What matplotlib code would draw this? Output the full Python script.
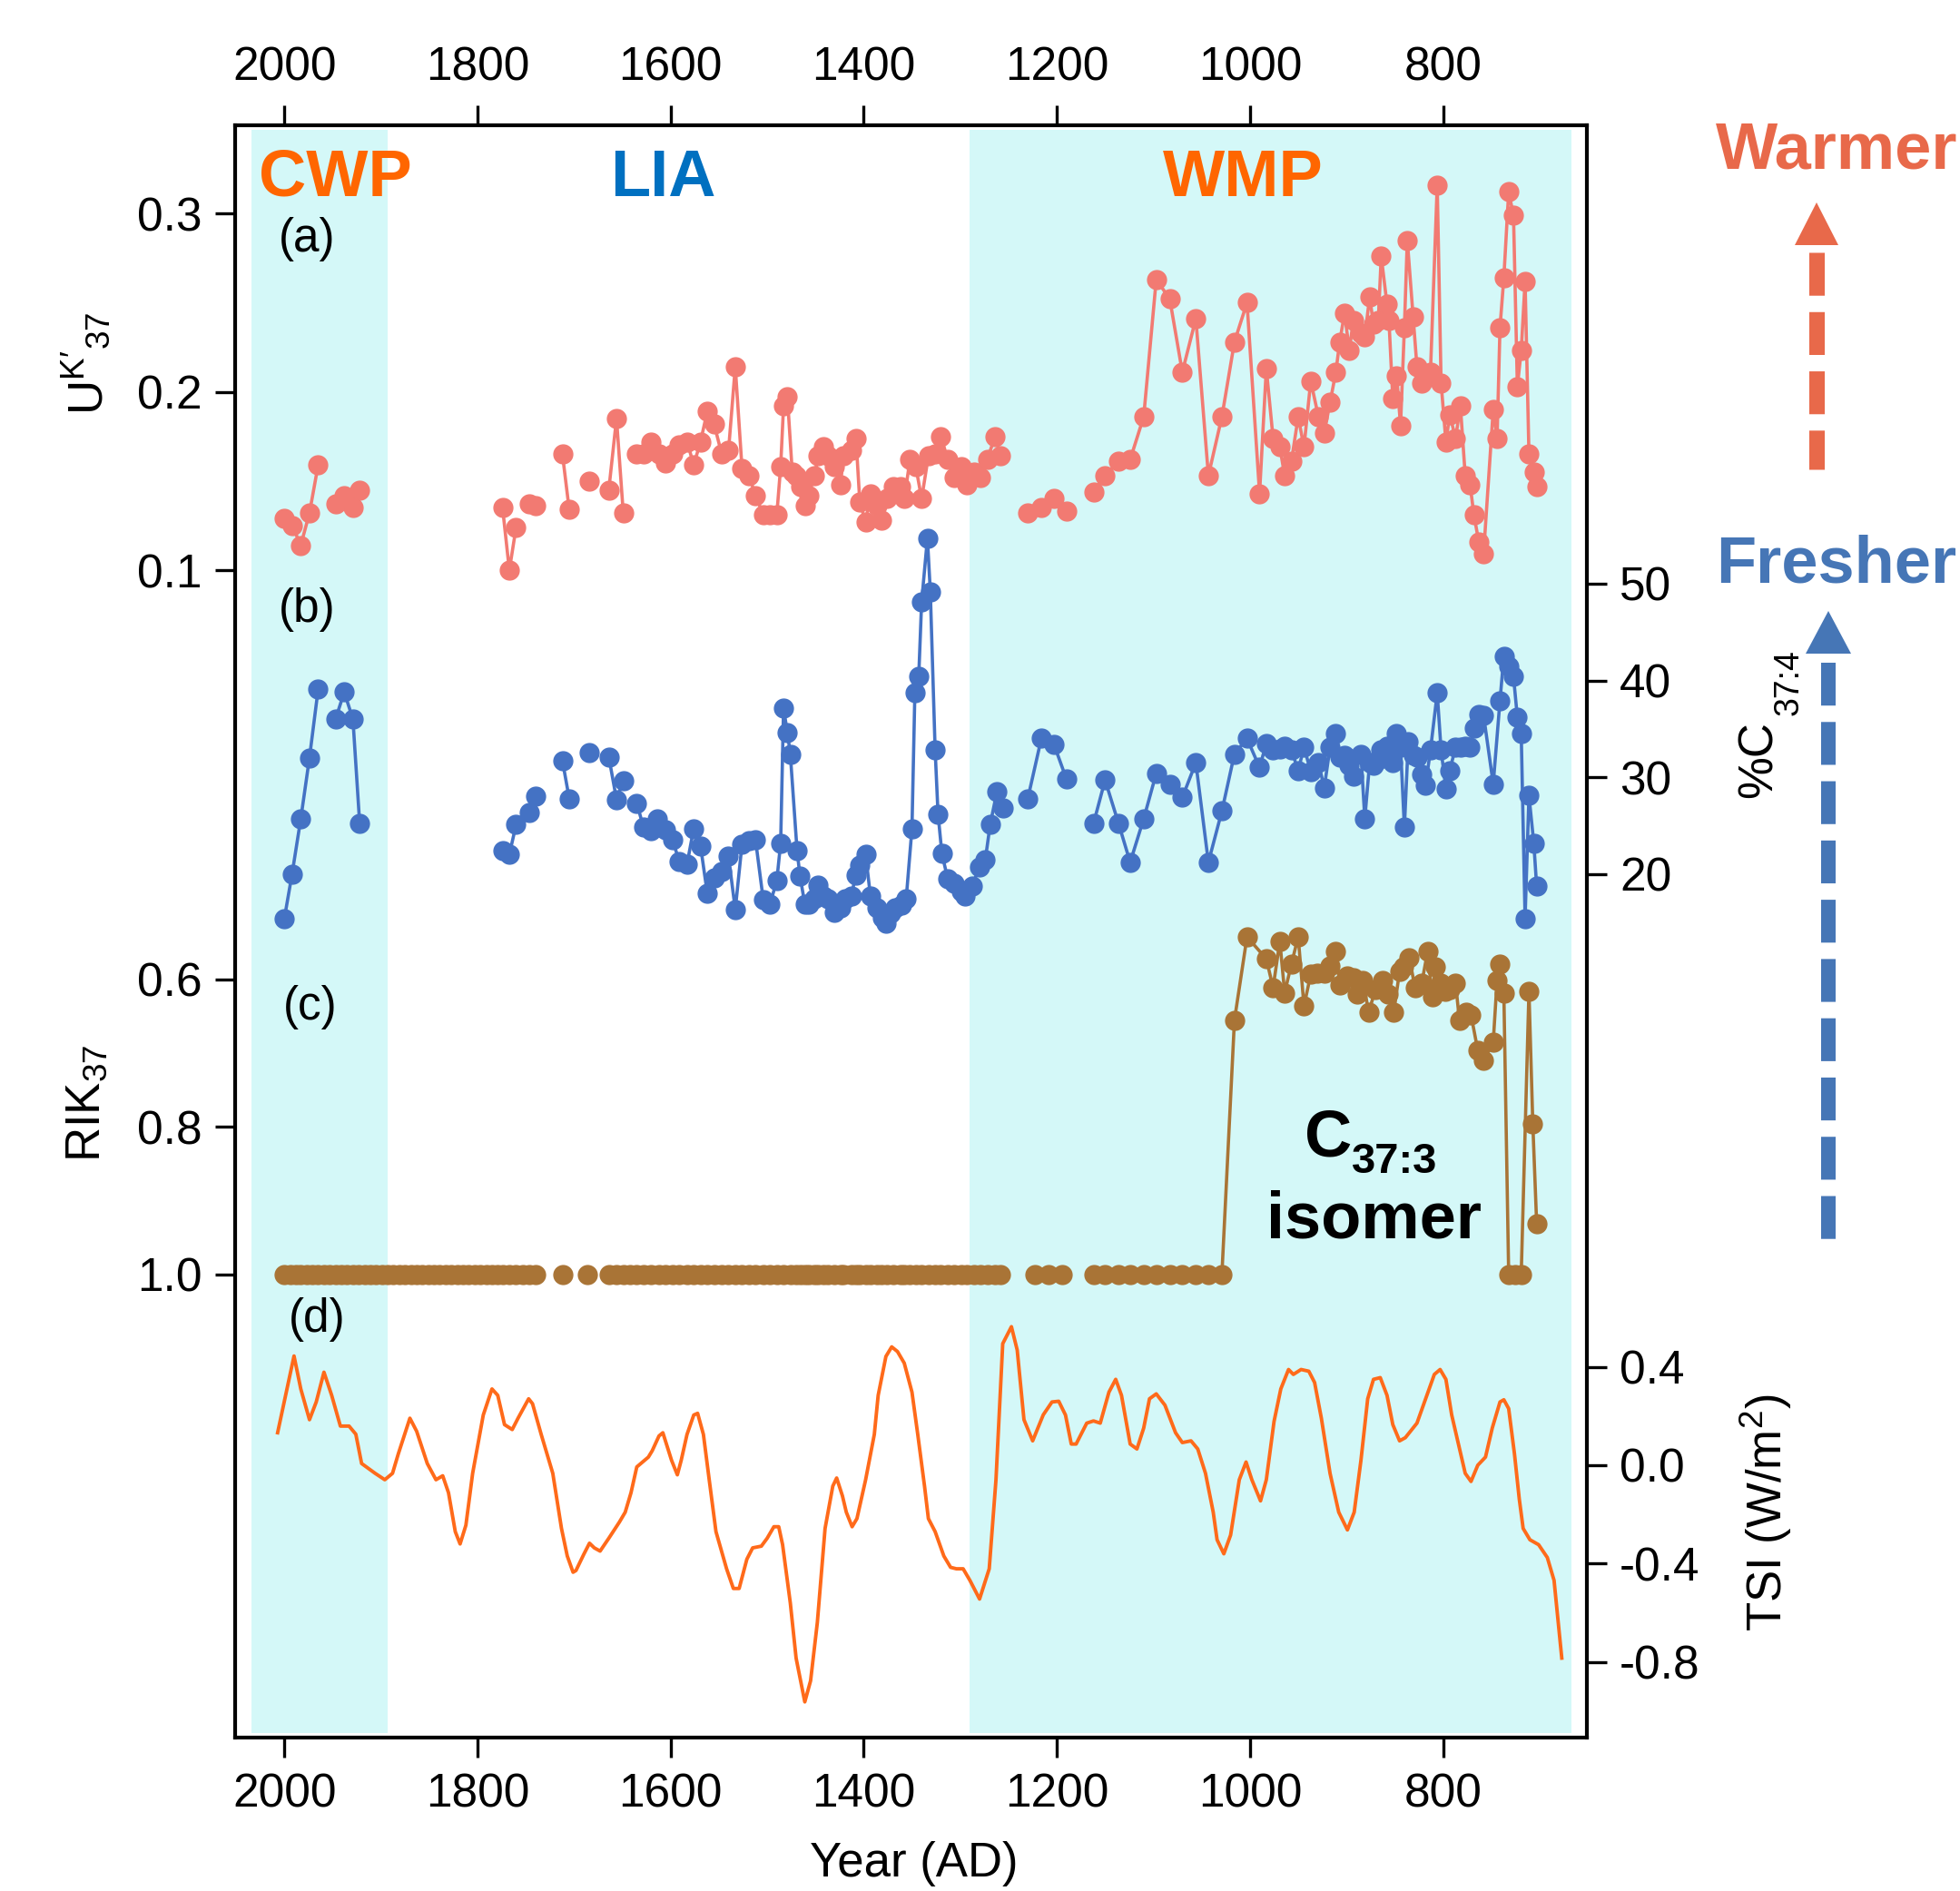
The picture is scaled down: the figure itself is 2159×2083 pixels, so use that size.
import numpy as np
import matplotlib
matplotlib.use("Agg")
import matplotlib.pyplot as plt
from matplotlib.lines import Line2D
from matplotlib.patches import Polygon

plt.rcParams['font.family'] = ['Liberation Sans', 'DejaVu Sans']
plt.rcParams['mathtext.fontset'] = 'custom'
plt.rcParams['mathtext.rm'] = 'Liberation Sans'
plt.rcParams['mathtext.it'] = 'Liberation Sans:italic'
plt.rcParams['mathtext.bf'] = 'Liberation Sans:bold'
plt.rcParams['lines.scale_dashes'] = False

nan = np.nan

# (a) UK'37  (nan = break in the line)
uk_year = [2000, 1992, 1983, 1974, 1965, nan, 1947, 1938, 1929, 1922, nan,
           1774, 1767, 1760, nan, 1746, 1740, nan, 1712, 1705, nan, 1684, nan, 1664, 1656, 1649, nan,
           1635, 1628, 1620, 1612, 1605, 1598, 1591, 1583, 1576, 1569, 1562, 1555,
           1547, 1540, 1533, 1526, 1519, 1512, 1504, 1497, 1490, 1486, 1483, 1479,
           1474, 1470, 1465, 1461, 1457, 1451, 1447, 1442, 1437, 1430, 1424, 1421,
           1413, 1408, 1404, 1398, 1393, 1386, 1382, 1376, 1369, 1362, 1358, 1352,
           1346, 1340, 1333, 1326, 1320, 1313, 1306, 1299, 1293, 1286, 1279, 1272,
           1264, 1258, nan,
           1230, 1216, 1203, 1190, nan, 1162, 1150, 1136, 1124, 1110, 1097, 1083, 1070,
           1056, 1043, 1029, 1016, 1003, 990, 983, 976, 969, 964, 957, 950, 944,
           937, 929, 923, 917, 911, 907, 902, 897, 893, 885, 881, 876, 872, 867,
           864, 858, 856, 852, 848, 844, 840, 837, 831, 827, 822, 813, 806, 802,
           797, 793, 787, 782, 777, 772, 768, 763, 758, 748, 744, 741, 737, 732,
           727, 723, 719, 715, 711, 706, 703]
uk_val = [0.129, 0.125, 0.114, 0.132, 0.159, nan, 0.137, 0.142, 0.135, 0.145, nan,
          0.135, 0.100, 0.124, nan, 0.137, 0.136, nan, 0.165, 0.134, nan, 0.150, nan, 0.145, 0.185, 0.132, nan,
          0.165, 0.165, 0.172, 0.165, 0.160, 0.165, 0.170, 0.172, 0.159, 0.172, 0.189, 0.182,
          0.165, 0.167, 0.214, 0.157, 0.153, 0.142, 0.131, 0.131, 0.131, 0.158, 0.192, 0.197,
          0.155, 0.153, 0.147, 0.136, 0.142, 0.153, 0.164, 0.169, 0.164, 0.158, 0.148, 0.164,
          0.167, 0.174, 0.138, 0.127, 0.143, 0.136, 0.128, 0.140, 0.147, 0.147, 0.140, 0.162,
          0.158, 0.140, 0.164, 0.165, 0.175, 0.162, 0.152, 0.158, 0.148, 0.155, 0.152, 0.162,
          0.175, 0.164, nan,
          0.132, 0.135, 0.140, 0.133, nan, 0.144, 0.153, 0.161, 0.162, 0.186, 0.263, 0.252, 0.211,
          0.241, 0.153, 0.186, 0.228, 0.250, 0.143, 0.213, 0.174, 0.169, 0.153, 0.161, 0.186, 0.169,
          0.206, 0.186, 0.177, 0.194, 0.211, 0.228, 0.244, 0.223, 0.240, 0.233, 0.231, 0.253, 0.238, 0.240,
          0.276, 0.249, 0.240, 0.196, 0.209, 0.181, 0.236, 0.285, 0.242, 0.214, 0.205, 0.211, 0.316, 0.205,
          0.172, 0.187, 0.174, 0.192, 0.153, 0.148, 0.131, 0.116, 0.109, 0.190, 0.174, 0.236, 0.264, 0.312,
          0.299, 0.203, 0.223, 0.262, 0.165, 0.155, 0.147]

# (b) %C37:4
c374_year = [2000, 1992, 1983, 1974, 1965, nan, 1947, 1938, 1929, 1922, nan,
             1774, 1767, 1760, nan, 1746, 1740, nan, 1712, 1705, nan, 1684, nan,
             1664, 1656, 1649, nan, 1635, 1628, 1620, 1614, 1605, 1598,
             1591, 1583, 1576, 1569, 1562, 1555, 1547, 1540, 1533, 1526,
             1519, 1512, 1504, 1497, 1490, 1486, 1483, 1479, 1476, 1469,
             1466, 1461, 1457, 1451, 1447, 1442, 1437, 1430, 1424, 1419,
             1413, 1408, 1404, 1398, 1393, 1386, 1381, 1377, 1372, 1367,
             1361, 1356, 1350, 1347, 1343, 1340, 1334, 1331, 1326, 1323,
             1319, 1313, 1306, 1299, 1295, 1288, 1280, 1274, 1269, 1262, 1256, nan,
             1230, 1216, 1203, 1190, nan, 1162, 1150, 1136, 1124, 1110, 1097,
             1083, 1070, 1056, 1043, 1029, 1016, 1003, 990, 983, 976,
             969, 964, 957, 950, 944, 937, 929, 923, 917, 911,
             907, 902, 897, 893, 885, 881, 876, 872, 867, 864,
             858, 856, 852, 848, 844, 840, 836, 831, 827, 822,
             818, 813, 806, 802, 797, 793, 787, 782, 777, 772,
             768, 763, 758, 748, 741, 737, 732, 727, 723, 719,
             715, 711, 706, 703]
c374_val = [15.4, 20.0, 25.7, 32.0, 39.1, nan, 36.0, 38.8, 36.0, 25.2, nan,
            22.4, 22.0, 25.1, nan, 26.3, 28.0, nan, 31.7, 27.8, nan, 32.5, nan,
            32.1, 27.7, 29.6, nan, 27.3, 24.8, 24.5, 25.7, 24.6, 23.5,
            21.3, 21.0, 24.7, 22.9, 18.0, 19.6, 20.2, 21.8, 16.3, 23.1,
            23.4, 23.5, 17.3, 16.9, 19.3, 23.2, 37.1, 34.6, 32.4, 22.4,
            19.8, 16.9, 16.9, 17.4, 18.8, 17.7, 17.4, 16.0, 16.5, 17.4,
            17.7, 19.9, 20.9, 22.0, 17.7, 16.5, 15.5, 14.9, 15.9, 16.5,
            16.8, 17.4, 24.7, 38.7, 40.4, 48.1, 54.7, 49.2, 32.8, 26.2,
            22.1, 19.5, 19.0, 18.2, 17.7, 18.7, 20.7, 21.5, 25.1, 28.5, 26.8, nan,
            27.8, 34.0, 33.4, 29.8, nan, 25.2, 29.7, 25.2, 21.2, 25.7, 30.4,
            29.3, 27.9, 31.5, 21.2, 26.5, 32.4, 34.0, 31.0, 33.5, 32.8,
            32.9, 33.2, 32.8, 30.7, 33.1, 30.6, 31.5, 28.9, 33.1, 34.5,
            32.1, 32.3, 31.2, 30.1, 32.4, 25.7, 31.5, 31.2, 31.8, 32.8,
            33.2, 32.8, 31.5, 34.5, 33.1, 24.8, 33.7, 32.3, 32.1, 30.3,
            29.2, 32.8, 38.7, 32.8, 28.8, 30.7, 33.1, 33.1, 33.2, 33.1,
            35.1, 36.5, 36.4, 29.3, 37.9, 42.5, 41.5, 40.4, 36.2, 34.5,
            15.4, 28.1, 23.2, 18.7]

# (c) RIK37: samples sitting at 1.0, then the part after ~1030 AD
rik_flat = 1.0
rik_flat_year = [2000, 1994, 1988, 1983, 1977, 1971, 1965, 1959, 1953, 1947, 1941, 1935,
                 1929, 1923, 1917, 1911, 1905, 1899, 1893, 1887, 1881, 1875, 1869, 1863,
                 1857, 1851, 1845, 1839, 1833, 1827, 1821, 1815, 1809, 1803, 1797, 1791,
                 1785, 1779, 1774, 1767, 1760, 1753, 1746, 1740, nan, 1712, nan, 1686, nan,
                 1664, 1656, 1649, 1642, 1635, 1628, 1620, 1612, 1605, 1598, 1591, 1583, 1576,
                 1569, 1562, 1555, 1547, 1540, 1533, 1526, 1519, 1512, 1504, 1497, 1490,
                 1483, 1476, 1470, 1465, 1461, 1457, 1451, 1447, 1442, 1437, 1430, 1424,
                 1421, 1413, 1408, 1404, 1398, 1393, 1386, 1382, 1376, 1369, 1362, 1358,
                 1352, 1346, 1340, 1333, 1326, 1320, 1313, 1306, 1299, 1293, 1286, 1279,
                 1272, 1264, 1258, nan, 1223, 1209, 1194, nan,
                 1162, 1150, 1136, 1124, 1110, 1097, 1083, 1070, 1056, 1043, 1029]
rik_late_year = [1016, 1003, 983, 976, 969, 964, 957, 950, 944, 937,
                 930, 923, 917, 911, 907, 899, 893, 889, 883, 877,
                 870, 863, 857, 851, 845, 841, 835, 829, 822, 816,
                 811, 808, 802, 798, 793, 787, 783, 776, 771, 764,
                 758, 748, 744, 741, 737, 732, 725, 719, 711, 707,
                 703]
rik_late_val = [0.655, 0.542, 0.572, 0.611, 0.548, 0.618, 0.579, 0.542, 0.636, 0.593,
                0.591, 0.591, 0.581, 0.562, 0.607, 0.595, 0.597, 0.620, 0.601, 0.644,
                0.614, 0.601, 0.620, 0.644, 0.589, 0.583, 0.570, 0.611, 0.605, 0.562,
                0.624, 0.583, 0.605, 0.616, 0.614, 0.605, 0.655, 0.644, 0.648, 0.696,
                0.710, 0.685, 0.601, 0.579, 0.618, 1.0, 1.0, 1.0, 0.616, 0.796,
                0.932]

# (d) TSI anomaly
tsi_year = [2007, 1990, 1983, 1974, 1967, 1959, 1951, 1942, 1933, 1926, 1920, 1906,
            1896, 1888, 1882, 1870, 1863, 1852, 1843, 1836, 1830, 1823, 1818, 1812,
            1805, 1794, 1785, 1779, 1772, 1764, 1758, 1747, 1743, 1734, 1722, 1713,
            1707, 1701, 1698, 1690, 1684, 1679, 1673, 1664, 1653, 1647, 1641, 1635,
            1623, 1619, 1612, 1608, 1599, 1593, 1589, 1583, 1576, 1572, 1566, 1560,
            1553, 1542, 1535, 1529, 1521, 1515, 1506, 1500, 1493, 1488, 1484, 1476,
            1470, 1461, 1455, 1448, 1440, 1432, 1428, 1422, 1418, 1412, 1407, 1398,
            1389, 1385, 1377, 1371, 1365, 1358, 1350, 1344, 1337, 1333, 1326, 1317,
            1310, 1304, 1297, 1290, 1280, 1270, 1263, 1256, 1247, 1241, 1234, 1225,
            1214, 1205, 1198, 1191, 1185, 1180, 1169, 1162, 1155, 1146, 1139, 1133,
            1124, 1117, 1110, 1104, 1097, 1088, 1077, 1070, 1061, 1054, 1046, 1038,
            1034, 1027, 1020, 1011, 1004, 998, 989, 983, 975, 968, 960, 955, 947,
            939, 933, 926, 917, 908, 899, 892, 885, 878, 872, 865, 858, 852, 845,
            839, 827, 818, 809, 803, 797, 791, 784, 777, 771, 764, 756, 749, 741,
            737, 732, 726, 721, 717, 710, 701, 692, 685, 677]
tsi_val = [0.132, 0.444, 0.310, 0.185, 0.257, 0.378, 0.284, 0.159, 0.159, 0.126, 0.007, -0.033,
           -0.059, -0.033, 0.046, 0.191, 0.138, 0.007, -0.059, -0.043, -0.112, -0.270, -0.320, -0.244,
           -0.033, 0.204, 0.310, 0.284, 0.165, 0.145, 0.191, 0.270, 0.250, 0.125, -0.033, -0.257,
           -0.369, -0.435, -0.428, -0.363, -0.317, -0.336, -0.349, -0.297, -0.231, -0.191, -0.112, -0.007,
           0.033, 0.059, 0.119, 0.132, 0.020, -0.039, 0.020, 0.125, 0.204, 0.211, 0.125, -0.059,
           -0.270, -0.421, -0.501, -0.501, -0.382, -0.336, -0.329, -0.297, -0.250, -0.250, -0.323, -0.560,
           -0.784, -0.962, -0.876, -0.639, -0.257, -0.085, -0.052, -0.125, -0.191, -0.250, -0.217, -0.059,
           0.125, 0.284, 0.442, 0.481, 0.462, 0.415, 0.297, 0.125, -0.085, -0.217, -0.270, -0.369,
           -0.415, -0.421, -0.421, -0.468, -0.544, -0.421, -0.059, 0.494, 0.563, 0.468, 0.185, 0.099,
           0.205, 0.257, 0.260, 0.204, 0.086, 0.086, 0.171, 0.180, 0.171, 0.297, 0.349, 0.284,
           0.086, 0.066, 0.151, 0.270, 0.290, 0.244, 0.132, 0.092, 0.099, 0.066, -0.033, -0.191,
           -0.303, -0.360, -0.284, -0.059, 0.013, -0.059, -0.145, -0.059, 0.178, 0.310, 0.389, 0.369, 0.389,
           0.382, 0.336, 0.191, -0.033, -0.191, -0.263, -0.191, 0.020, 0.270, 0.349, 0.356, 0.284, 0.165, 0.099,
           0.112, 0.171, 0.270, 0.369, 0.389, 0.349, 0.204, 0.086, -0.033, -0.066, 0.000, 0.033, 0.151, 0.257,
           0.266, 0.230, 0.046, -0.138, -0.257, -0.303, -0.323, -0.375, -0.468, -0.784]

xticks = [2000, 1800, 1600, 1400, 1200, 1000, 800]
periods = [("CWP", 2034, 1893), ("WMP", 1290, 667)]

rik_year = rik_flat_year + rik_late_year
rik_val = [rik_flat if y == y else nan for y in rik_flat_year] + rik_late_val

W, H = 2159, 2083
fig = plt.figure(figsize=(W / 100, H / 100), dpi=100)


def fx(px):
    return px / W


def fy(py):
    return 1 - py / H


ax = fig.add_axes([fx(259), fy(1914), fx(1748) - fx(259), fy(138) - fy(1914)])
ax.set_xlim(2051, 651)
for sp in ax.spines.values():
    sp.set_linewidth(3)
for name, a0, a1 in periods:
    ax.axvspan(a0, a1, ymin=0.003, ymax=0.997, color='#D4F8F8', lw=0, zorder=0)

ax2 = ax.twinx()
ax3 = ax.twinx()
ax4 = ax.twinx()
for a in (ax2, ax3, ax4):
    for sp in a.spines.values():
        sp.set_visible(False)

tick_kw = dict(direction='out', length=16, width=2.4, labelsize=37, pad=10)

# (a)
ax.plot(uk_year, uk_val, '-o', color='#F27A72', lw=2.6, ms=15, zorder=3)
ax.set_ylim(-0.5545, 0.3494)
ax.set_yticks([0.1, 0.2, 0.3])
ax.set_yticklabels(['0.1', '0.2', '0.3'])
ax.tick_params(axis='y', **tick_kw)
ax.set_xticks(xticks)
ax.tick_params(axis='x', direction='out', length=16, width=2.4, labelsize=37, pad=12,
               top=True, labeltop=True)

# (b)
ax2.plot(c374_year, c374_val, '-o', color='#4472C4', lw=2.6, ms=15, zorder=3)
ax2.set_ylim(-69.3, 97.4)
ax2.set_yticks([20, 30, 40, 50])
ax2.tick_params(axis='y', **tick_kw)

# (c)
ax3.plot(rik_year, rik_val, '-o', color='#A97436', lw=2.6, ms=15, zorder=3)
ax3.set_ylim(1.629, -0.5596)
ax3.set_yticks([0.6, 0.8, 1.0])
ax3.set_yticklabels(['0.6', '0.8', '1.0'])
ax3.yaxis.set_ticks_position('left')
ax3.tick_params(axis='y', **tick_kw)

# (d)
ax4.plot(tsi_year, tsi_val, '-', color='#FF6A1A', lw=2.8, zorder=3)
ax4.set_ylim(-1.107, 5.446)
ax4.set_yticks([-0.8, -0.4, 0.0, 0.4])
ax4.set_yticklabels(['-0.8', '-0.4', '0.0', '0.4'])
ax4.tick_params(axis='y', **tick_kw)

# axis labels
fig.text(fx(1007), fy(2028), 'Year (AD)', fontsize=38, ha='center', va='top')
fig.text(fx(96), fy(400), r"U$^{\mathrm{K}\prime}$$_{37}$", fontsize=38, rotation=90,
         ha='center', va='center')
fig.text(fx(96), fy(1215), r"RIK$_{37}$", fontsize=38, rotation=90, ha='center', va='center')
fig.text(fx(1938), fy(837), "%C", fontsize=38, rotation=90, ha='center', va='center')
fig.text(fx(1971), fy(752), "37:4", fontsize=27, rotation=90, ha='center', va='center')
fig.text(fx(1945), fy(1666), r"TSI (W/m$^{2}$)", fontsize=38, rotation=90,
         ha='center', va='center')

# panel letters
for lab, px, py in [("(a)", 338, 263), ("(b)", 338, 671), ("(c)", 342, 1109), ("(d)", 349, 1453)]:
    fig.text(fx(px), fy(py), lab, fontsize=37, ha='center', va='center')

# period names
fig.text(fx(369), fy(197), 'CWP', fontsize=52, fontweight='bold', color='#FF6600', ha='center', va='center')
fig.text(fx(730), fy(197), 'LIA', fontsize=52, fontweight='bold', color='#0070C0', ha='center', va='center')
fig.text(fx(1369), fy(197), 'WMP', fontsize=52, fontweight='bold', color='#FF6600', ha='center', va='center')

# isomer note
fig.text(fx(1437), fy(1273), 'C', fontsize=52, fontweight='bold', ha='left', va='baseline')
fig.text(fx(1489), fy(1292), '37:3', fontsize=34, fontweight='bold', ha='left', va='baseline')
fig.text(fx(1513), fy(1363), 'isomer', fontsize=52, fontweight='bold', ha='center', va='baseline')

# direction arrows
fig.text(fx(1890), fy(167), 'Warmer', fontsize=52, fontweight='bold', color='#E8694A', ha='left', va='center')
fig.text(fx(1890), fy(622), 'Fresher', fontsize=52, fontweight='bold', color='#4676B6', ha='left', va='center')


def dashed_arrow(xc, tip, base, half, y0, y1, width, color):
    fig.add_artist(Polygon([(fx(xc), fy(tip)), (fx(xc - half), fy(base)), (fx(xc + half), fy(base))],
                           closed=True, transform=fig.transFigure, color=color, lw=0))
    fig.add_artist(Line2D([fx(xc), fx(xc)], [fy(y0), fy(y1)], transform=fig.transFigure,
                          color=color, lw=width * 0.72, dashes=(34, 13), dash_capstyle='butt'))


dashed_arrow(2001, 223, 270, 24, 278, 517, 17, '#E8694A')
dashed_arrow(2014, 673, 720, 25, 730, 1370, 16, '#4676B6')

fig.savefig('out.png', dpi=100)
